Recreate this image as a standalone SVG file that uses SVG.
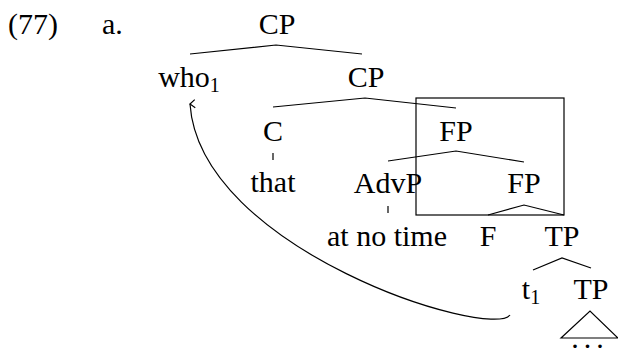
<svg xmlns="http://www.w3.org/2000/svg" width="618" height="353" viewBox="0 0 618 353">
<style>
text{font-family:"Liberation Serif","Times New Roman",serif;font-size:30px;fill:#000;text-anchor:middle}
.sub{font-size:20px}
.l{fill:none;stroke:#000;stroke-width:1.2}
.box{fill:none;stroke:#000;stroke-width:1.2}
</style>
<defs>
<marker id="ah" viewBox="0 0 10 10" refX="5" refY="1" markerWidth="10" markerHeight="10" markerUnits="userSpaceOnUse" orient="auto-start-reverse">
<path d="M1,6 L5,1 L9,6" fill="none" stroke="#000" stroke-width="1.2"/>
</marker>
</defs>
<rect class="box" x="416" y="98" width="148" height="117"/>
<g id="label"><text x="8" y="34" style="text-anchor:start">(77)</text><text x="102" y="34" style="text-anchor:start">a.</text></g>
<g id="connectors">
<path class="l" d="M190,54 L276,45 L362,54"/>
<path class="l" d="M273,107 L365,98 L456,108"/>
<path class="l" d="M273,153 L273,160"/>
<path class="l" d="M388,161 L456,151 L524,162"/>
<path class="l" d="M388,206 L388,213"/>
<path class="l" d="M488,215 L524,205 L564,215"/>
<path class="l" d="M533,270 L562,258 L591,268"/>
<path class="l" d="M561,338 L590,311 L618,338 Z"/>
<path class="l" d="M510,315 C490,340 200,250 190,104" marker-end="url(#ah)"/>
</g>
<g id="n-cp1"><text x="277" y="34">CP</text></g>
<g id="n-who"><text x="189" y="87">who<tspan class="sub" dy="5">1</tspan></text></g>
<g id="n-cp2"><text x="366" y="87">CP</text></g>
<g id="n-c"><text x="273" y="141">C</text></g>
<g id="n-fp1"><text x="456" y="141">FP</text></g>
<g id="n-that"><text x="273" y="192">that</text></g>
<g id="n-advp"><text x="388" y="193">AdvP</text></g>
<g id="n-fp2"><text x="524" y="193">FP</text></g>
<g id="n-atnotime"><text x="387" y="246">at no time</text></g>
<g id="n-f"><text x="488" y="246">F</text></g>
<g id="n-tp1"><text x="562" y="246">TP</text></g>
<g id="n-t1"><text x="531" y="299">t<tspan class="sub" dy="5">1</tspan></text></g>
<g id="n-tp2"><text x="591" y="299">TP</text></g>
<g id="n-dots"><text x="590" y="348" letter-spacing="5">...</text></g>
</svg>
